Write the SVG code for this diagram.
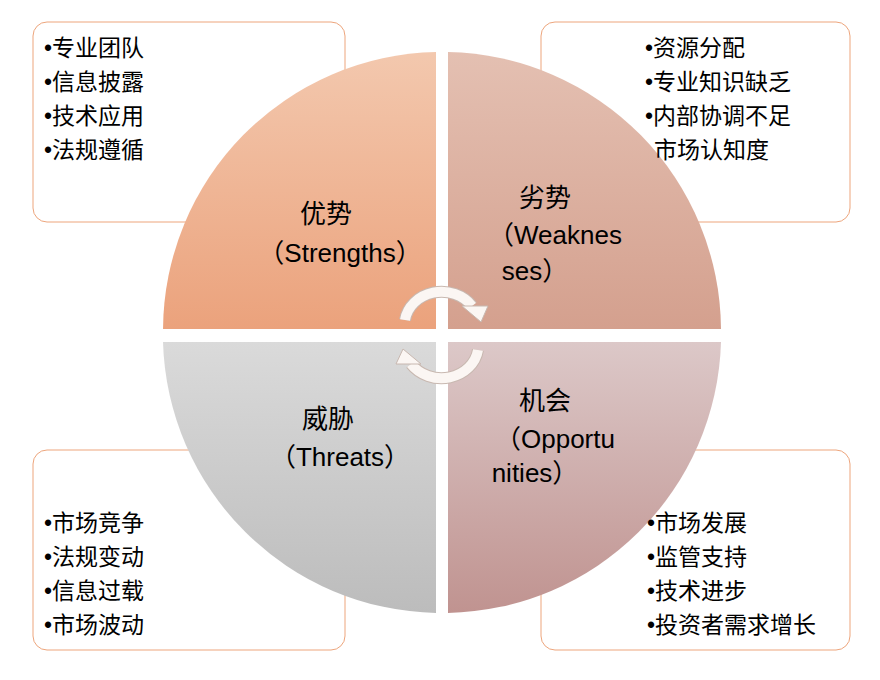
<svg xmlns="http://www.w3.org/2000/svg" width="880" height="680" viewBox="0 0 880 680">
<defs>
<linearGradient id="gS" x1="0" y1="0" x2="0" y2="1"><stop offset="0" stop-color="#f3c8ae"/><stop offset="1" stop-color="#eba27c"/></linearGradient>
<linearGradient id="gW" x1="0" y1="0" x2="0" y2="1"><stop offset="0" stop-color="#e4c0b2"/><stop offset="1" stop-color="#d4a08e"/></linearGradient>
<linearGradient id="gO" x1="0" y1="0" x2="0" y2="1"><stop offset="0" stop-color="#dcc8c8"/><stop offset="1" stop-color="#c09390"/></linearGradient>
<linearGradient id="gT" x1="0" y1="0" x2="0" y2="1"><stop offset="0" stop-color="#dadada"/><stop offset="1" stop-color="#bcbcbc"/></linearGradient>
</defs>
<style>
.box{fill:#fff;stroke:#eda57c;stroke-width:1}
.t{font-family:"Liberation Sans","Noto Sans CJK SC",sans-serif;font-size:23px;fill:#000}
.q{font-family:"Liberation Sans","Noto Sans CJK SC",sans-serif;font-size:26px;fill:#000;text-anchor:middle}
.arc{fill:none;stroke:#c8b8b0;stroke-width:12}
.arci{fill:none;stroke:#fbf6f3;stroke-width:10}
.hd{fill:#fbf6f3;stroke:#c8b8b0;stroke-width:1}
</style>
<rect width="880" height="680" fill="#fff"/>
<g id="boxS"><rect class="box" x="33" y="22" width="312" height="200" rx="14"/>
<text class="t" x="44" y="56">•专业团队</text><text class="t" x="44" y="90">•信息披露</text><text class="t" x="44" y="124">•技术应用</text><text class="t" x="44" y="158">•法规遵循</text></g>
<g id="boxW"><rect class="box" x="541" y="22" width="309" height="200" rx="14"/></g>
<g id="boxT"><rect class="box" x="33" y="450" width="312" height="200" rx="14"/>
<text class="t" x="44" y="531">•市场竞争</text><text class="t" x="44" y="565">•法规变动</text><text class="t" x="44" y="599">•信息过载</text><text class="t" x="44" y="633">•市场波动</text></g>
<g id="boxO"><rect class="box" x="541" y="450" width="309" height="200" rx="14"/></g>
<g id="S"><path d="M436,329 L163,329 A279,279 0 0 1 436,52 Z" fill="url(#gS)"/>
<text class="q" x="326" y="223">优势</text><text class="q" x="340" y="262">（Strengths）</text></g>
<g id="W"><path d="M448,329 L721,329 A279,279 0 0 0 448,52 Z" fill="url(#gW)"/>
<text class="q" x="545" y="207">劣势</text><text class="q" x="555" y="244">（Weaknes</text><text class="q" x="535" y="280">ses）</text></g>
<g id="T"><path d="M436,342 L163,342 A279,279 0 0 0 436,613 Z" fill="url(#gT)"/>
<text class="q" x="328" y="428">威胁</text><text class="q" x="340" y="466">（Threats）</text></g>
<g id="O"><path d="M448,342 L721,342 A279,279 0 0 1 448,613 Z" fill="url(#gO)"/>
<text class="q" x="545" y="410">机会</text><text class="q" x="555" y="448">（Opportu</text><text class="q" x="535" y="482">nities）</text></g>
<g id="textW"><text class="t" x="645" y="56">•资源分配</text><text class="t" x="645" y="90">•专业知识缺乏</text><text class="t" x="645" y="124">•内部协调不足</text><text class="t" x="654" y="158">市场认知度</text></g>
<g id="textO"><text class="t" x="647" y="531">•市场发展</text><text class="t" x="647" y="565">•监管支持</text><text class="t" x="647" y="599">•技术进步</text><text class="t" x="647" y="633">•投资者需求增长</text></g>
<g id="connectors">
<path class="arc" d="M405,320 A37,33 0 0 1 472,306"/>
<path class="arci" d="M405,320 A37,33 0 0 1 472,306"/>
<polygon class="hd" points="462,306 488,306 481,322"/>
<path class="arc" d="M478,350 A37,33 0 0 1 411,364"/>
<path class="arci" d="M478,350 A37,33 0 0 1 411,364"/>
<polygon class="hd" points="421,364 396,364 403,349"/>
</g>
</svg>
